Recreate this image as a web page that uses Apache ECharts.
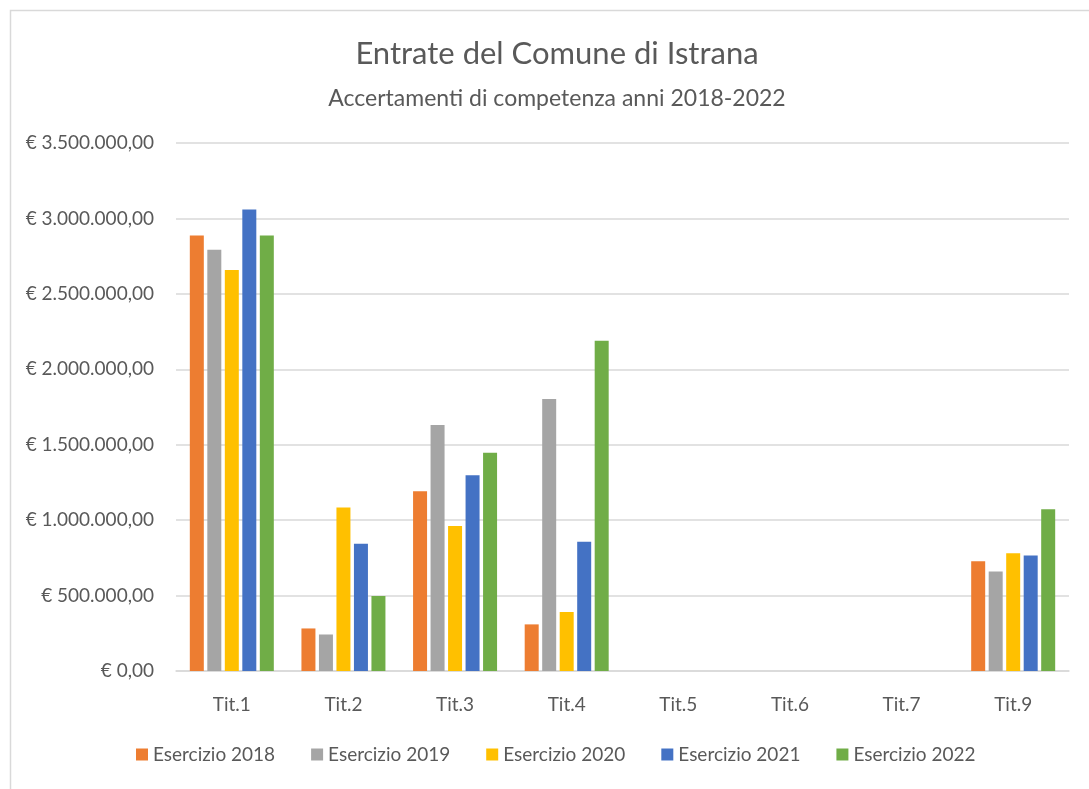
<!DOCTYPE html>
<html lang="it">
<head>
    <meta charset="UTF-8">
    <title>Entrate del Comune di Istrana</title>
    <script src="https://cdn.jsdelivr.net/npm/echarts@6/dist/echarts.min.js"></script>
    <style>
        html, body { margin: 0; padding: 0; background: #fff; }
        #chart { width: 1089px; height: 789px; }
    </style>
</head>
<body>
    <div id="chart"></div>

    <script type="text/javascript">
        // categorie e serie
        var categories = ['Tit.1', 'Tit.2', 'Tit.3', 'Tit.4', 'Tit.5', 'Tit.6', 'Tit.7', 'Tit.9'];
        var years = ['Esercizio 2018', 'Esercizio 2019', 'Esercizio 2020', 'Esercizio 2021', 'Esercizio 2022'];

        var es2018 = [2887000, 282000, 1192000, 309000, 0, 0, 0, 728000];
        var es2019 = [2792000, 242000, 1631000, 1803000, 0, 0, 0, 660000];
        var es2020 = [2658000, 1083000, 962000, 391000, 0, 0, 0, 781000];
        var es2021 = [3060000, 843000, 1298000, 856000, 0, 0, 0, 766000];
        var es2022 = [2887000, 497000, 1446000, 2189000, 0, 0, 0, 1073000];

        var colors = ['#ED7D31', '#A5A5A5', '#FFC000', '#4472C4', '#70AD47'];
        var font = 'Lato, "Open Sans", sans-serif';
        var textColor = '#595959';

        // formato euro all'italiana
        function euro(v) {
            var s = Math.round(v).toString().replace(/\B(?=(\d{3})+(?!\d))/g, '.');
            return '€ ' + s + ',00';
        }

        var chart = echarts.init(document.getElementById('chart'));

        var allData = [es2018, es2019, es2020, es2021, es2022];
        var series = allData.map(function (d, i) {
            return {
                name: years[i],
                type: 'bar',
                data: d,
                barWidth: 14,
                barGap: '25%',
                itemStyle: { color: colors[i] }
            };
        });

        var option = {
            animation: false,
            color: colors,
            title: [{
                text: 'Entrate del Comune di Istrana',
                left: 552,
                textAlign: 'center',
                top: 33,
                textStyle: { fontFamily: font, fontSize: 31, fontWeight: 'normal', color: textColor }
            }, {
                text: 'Accertamenti di competenza anni 2018-2022',
                left: 552,
                textAlign: 'center',
                top: 82,
                textStyle: { fontFamily: font, fontSize: 23, fontWeight: 'normal', color: textColor }
            }],
            legend: {
                bottom: 20,
                left: 131,
                itemWidth: 12,
                itemHeight: 12,
                itemGap: 36,
                icon: 'rect',
                textStyle: { fontFamily: font, fontSize: 19, color: textColor },
                data: years
            },
            grid: {
                left: 176,
                right: 20,
                top: 143,
                bottom: 118
            },
            xAxis: {
                type: 'category',
                data: categories,
                axisLine: { lineStyle: { color: '#d9d9d9', width: 1.5 } },
                axisTick: { show: false },
                axisLabel: { fontFamily: font, fontSize: 19, color: textColor, margin: 24 }
            },
            yAxis: {
                type: 'value',
                min: 0,
                max: 3500000,
                interval: 500000,
                axisLine: { show: false },
                axisTick: { show: false },
                splitLine: { lineStyle: { color: '#d9d9d9', width: 1.5 } },
                axisLabel: {
                    fontFamily: font, fontSize: 19, color: textColor, margin: 22,
                    formatter: euro
                }
            },
            graphic: [{
                type: 'rect',
                left: 8,
                top: 8,
                shape: { width: 1100, height: 800 },
                style: { fill: 'none', stroke: '#d9d9d9', lineWidth: 1.5 },
                silent: true
            }],
            series: series
        };

        chart.setOption(option);
    </script>
</body>
</html>
